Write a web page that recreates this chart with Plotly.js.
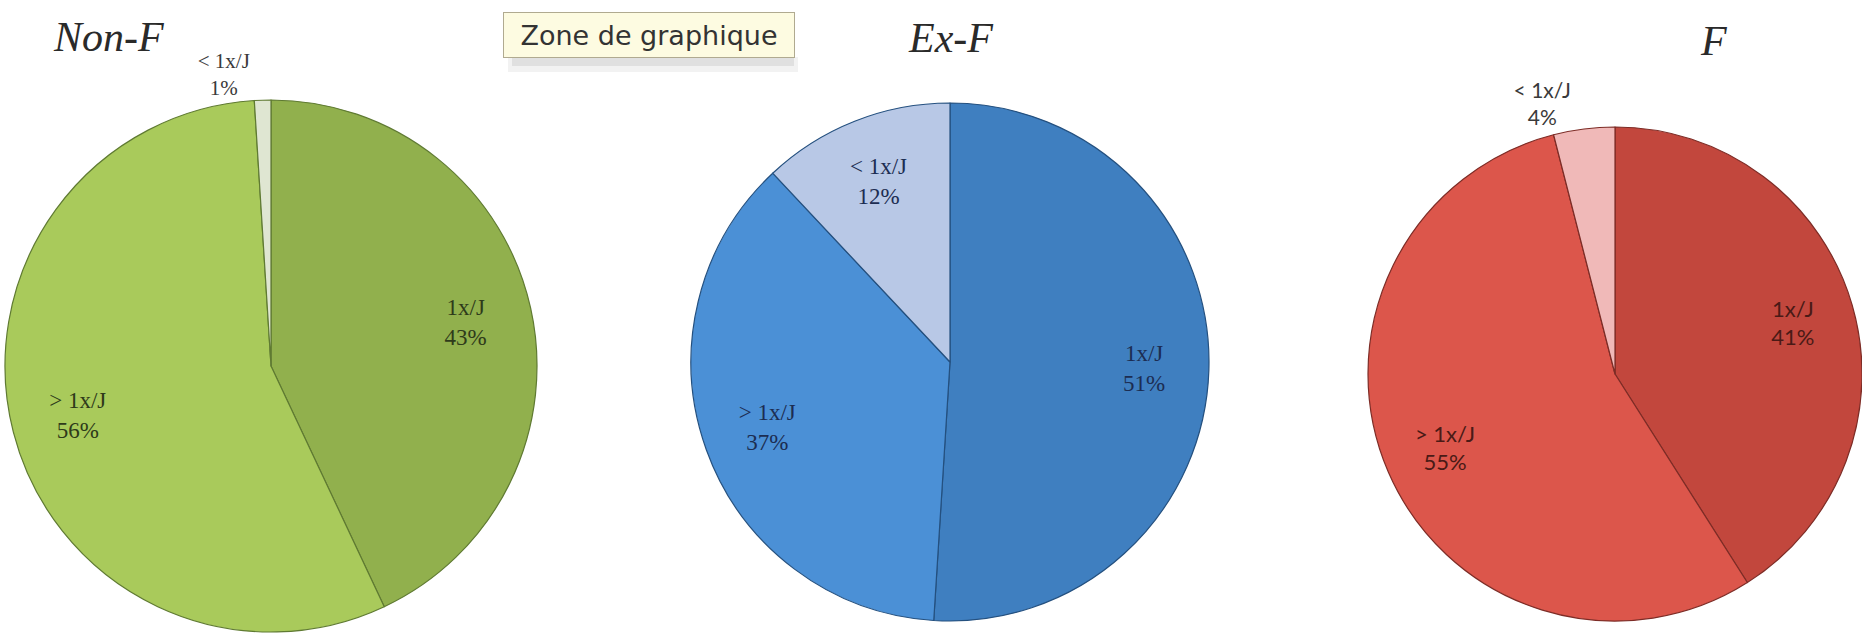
<!DOCTYPE html>
<html>
<head>
<meta charset="utf-8">
<script src="https://cdn.plot.ly/plotly-3.0.1.min.js"></script>
<style>
  html, body { margin: 0; padding: 0; background: #ffffff; }
  #chart { width: 1862px; height: 644px; }
</style>
</head>
<body>
<div id="chart"></div>
<script>
// ---- data ----
const categories = ["1x/J", "> 1x/J", "< 1x/J"];
const groupNames = ["Non-F", "Ex-F", "F"];
const nonFValues = [43, 56, 1];
const exFValues = [51, 37, 12];
const fValues = [41, 55, 4];

// ---- styles ----
const W = 1862, H = 644;
function dom(cx, cy, d) {
  return {
    x: [Math.max(0, (cx - d / 2) / W), Math.min(1, (cx + d / 2) / W)],
    y: [1 - (cy + d / 2) / H, 1 - (cy - d / 2) / H]
  };
}

const serif = 'Liberation Serif, Times New Roman, serif';
const sans = 'Lato, Open Sans, sans-serif';

const groups = [
  {
    values: nonFValues, domain: dom(271, 366, 532),
    colors: ['#91b04d', '#a9ca5b', '#dfe6d2'], line: '#5f7a32',
    textposition: ['inside', 'inside', 'outside'],
    font: { family: serif, size: 23, color: '#2e3a1a' },
    outfont: { family: serif, size: 21, color: '#3a3a3a' }
  },
  {
    values: exFValues, domain: dom(950, 362, 518),
    colors: ['#3f7fc0', '#4b90d6', '#b8c8e6'], line: '#24507f',
    textposition: ['inside', 'inside', 'inside'],
    font: { family: serif, size: 23, color: '#1c2d52' },
    outfont: { family: serif, size: 21, color: '#3a3a3a' }
  },
  {
    values: fValues, domain: dom(1615, 374, 494),
    colors: ['#c2473d', '#dc564b', '#f0b9b8'], line: '#7d2c26',
    textposition: ['inside', 'inside', 'outside'],
    font: { family: sans, size: 22, color: '#4a1a16' },
    outfont: { family: sans, size: 21, color: '#3a3a3a' }
  }
];

const traces = [];
groups.forEach((g, i) => {
  // filled pie (slices)
  traces.push({
    type: 'pie', labels: categories, values: g.values, name: groupNames[i],
    sort: false, direction: 'clockwise', rotation: 0,
    domain: g.domain, textinfo: 'none', showlegend: false,
    marker: { colors: g.colors, line: { color: g.line, width: 1.2 } }
  });
  // label layer: same pie as a transparent ring so labels sit near the rim
  traces.push({
    type: 'pie', labels: categories, values: g.values, name: groupNames[i] + ' labels',
    sort: false, direction: 'clockwise', rotation: 0,
    domain: g.domain, hole: 0.5, showlegend: false,
    textinfo: 'label+percent', insidetextorientation: 'horizontal',
    textposition: g.textposition,
    marker: { colors: ['rgba(0,0,0,0)', 'rgba(0,0,0,0)', 'rgba(0,0,0,0)'], line: { width: 0 } },
    textfont: g.font, insidetextfont: g.font, outsidetextfont: g.outfont
  });
});

const titleFont = { family: serif, size: 42, color: '#2a2a2a' };
const titleXs = [108, 950, 1713];
const titleYs = [37, 38, 41];

const annotations = groupNames.map((g, i) => ({
  text: '<i>' + g + '</i>',
  xref: 'paper', yref: 'paper',
  x: titleXs[i] / W, y: 1 - titleYs[i] / H,
  xanchor: 'center', yanchor: 'middle',
  showarrow: false,
  font: titleFont
}));

annotations.push({
  text: 'Zone de graphique',
  xref: 'paper', yref: 'paper',
  x: 649 / W, y: 1 - 35 / H,
  xanchor: 'center', yanchor: 'middle',
  showarrow: false,
  width: 290, height: 44,
  bgcolor: '#fdfbe1',
  bordercolor: '#b0aa90',
  borderwidth: 1,
  borderpad: 0,
  font: { family: 'DejaVu Sans, sans-serif', size: 27, color: '#333333' }
});

const layout = {
  width: W, height: H,
  margin: { l: 0, r: 0, t: 0, b: 0 },
  paper_bgcolor: '#ffffff',
  plot_bgcolor: '#ffffff',
  showlegend: false,
  annotations: annotations,
  shapes: [
    {
      type: 'rect', xref: 'paper', yref: 'paper', layer: 'below',
      x0: 508 / W, x1: 798 / W, y0: 1 - 72 / H, y1: 1 - 57 / H,
      fillcolor: 'rgba(0,0,0,0.05)', line: { width: 0 }
    },
    {
      type: 'rect', xref: 'paper', yref: 'paper', layer: 'below',
      x0: 512 / W, x1: 794 / W, y0: 1 - 66 / H, y1: 1 - 57 / H,
      fillcolor: 'rgba(0,0,0,0.07)', line: { width: 0 }
    }
  ]
};

Plotly.newPlot('chart', traces, layout, { displayModeBar: false, staticPlot: true });
</script>
</body>
</html>
